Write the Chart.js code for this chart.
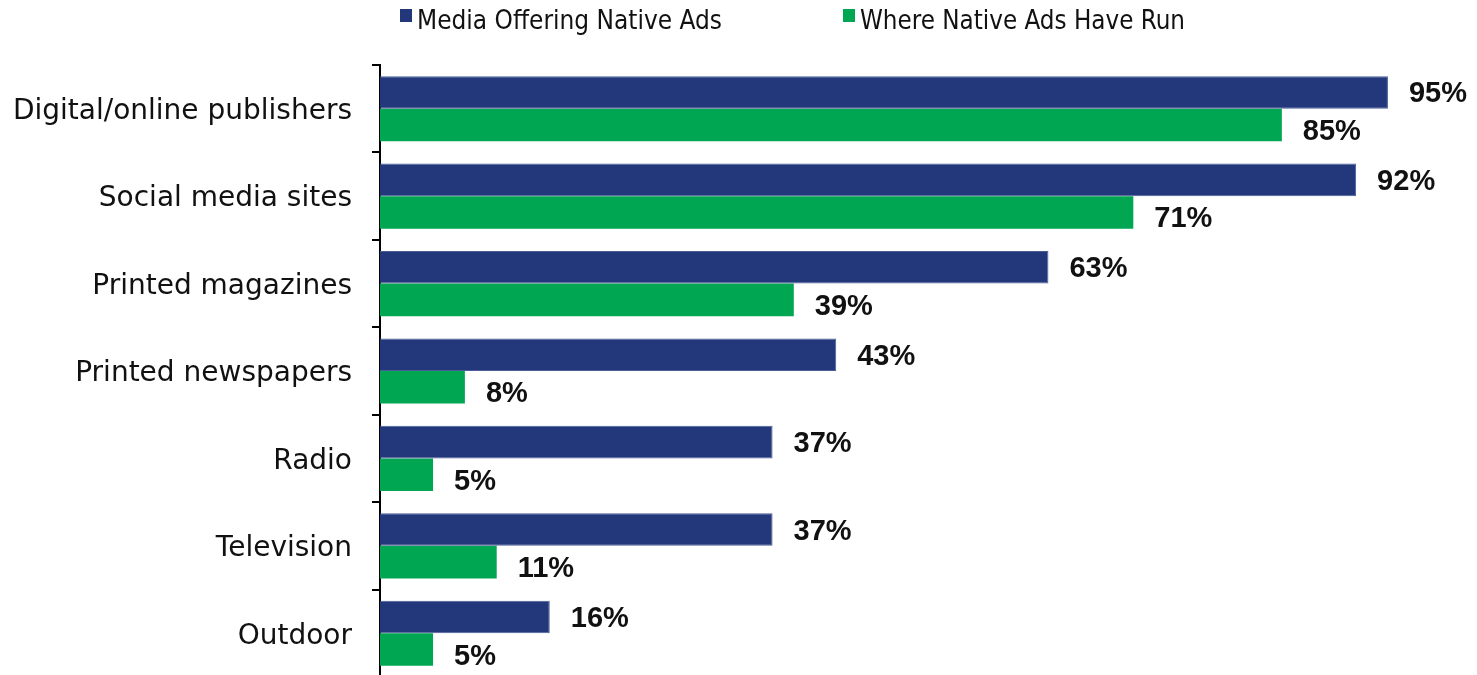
<!DOCTYPE html>
<html>
<head>
<meta charset="utf-8">
<script src="https://cdn.jsdelivr.net/npm/chart.js@4"></script>
<style>
  html, body { margin: 0; padding: 0; background: #fff; overflow: hidden; }
  canvas { display: block; }
</style>
</head>
<body>
<canvas id="nativeChart" width="1477" height="677"></canvas>
<script>
// categories and series
let categories = ['Digital/online publishers', 'Social media sites', 'Printed magazines',
  'Printed newspapers', 'Radio', 'Television', 'Outdoor'];
let offering = [95, 92, 63, 43, 37, 37, 16];
let haveRun = [85, 71, 39, 8, 5, 11, 5];
let seriesNames = ['Media Offering Native Ads', 'Where Native Ads Have Run'];
let colors = ['#22387A', '#00A651'];

// legend drawn by hand (small square + condensed text)
let topLegend = {
  id: 'topLegend',
  afterDraw(chart) {
    let ctx = chart.ctx;
    let items = [
      { x: 400, w: 305 },
      { x: 843, w: 325 }
    ];
    ctx.save();
    ctx.font = '27px "Liberation Sans Narrow", "DejaVu Sans Condensed", "Liberation Sans", sans-serif';
    ctx.textBaseline = 'alphabetic';
    items.forEach((it, i) => {
      ctx.fillStyle = colors[i];
      ctx.fillRect(it.x, 9, 12, 13);
      let txt = seriesNames[i];
      let m = ctx.measureText(txt).width;
      ctx.save();
      ctx.translate(it.x + 17, 29);
      ctx.scale(it.w / m, 1);
      ctx.fillStyle = '#111';
      ctx.fillText(txt, 0, 0);
      ctx.restore();
    });
    ctx.restore();
  }
};

// value labels at bar ends
let barLabels = {
  id: 'barLabels',
  afterDatasetsDraw(chart) {
    let ctx = chart.ctx;
    ctx.save();
    ctx.font = 'bold 29px "Liberation Sans", Arial, sans-serif';
    ctx.fillStyle = '#111';
    ctx.textAlign = 'left';
    ctx.textBaseline = 'middle';
    chart.data.datasets.forEach((ds, di) => {
      let meta = chart.getDatasetMeta(di);
      meta.data.forEach((bar, i) => {
        let dy = di === 0 ? 2 : 7;
        ctx.fillText(ds.data[i] + '%', bar.x + 21, bar.y + dy);
      });
    });
    ctx.restore();
  }
};

let ctx = document.getElementById('nativeChart').getContext('2d');

let chart = new Chart(ctx, {
  type: 'bar',
  data: {
    labels: categories,
    datasets: [{
      label: seriesNames[0],
      data: offering,
      backgroundColor: colors[0],
      borderColor: '#4B5E98',
      borderWidth: 1,
      categoryPercentage: 0.745,
      barPercentage: 1
    }, {
      label: seriesNames[1],
      data: haveRun,
      backgroundColor: colors[1],
      borderWidth: 0,
      categoryPercentage: 0.745,
      barPercentage: 1
    }]
  },
  options: {
    indexAxis: 'y',
    responsive: false,
    animation: false,
    layout: { padding: { top: 65, right: 36, bottom: 0, left: 0 } },
    plugins: {
      legend: { display: false },
      tooltip: { enabled: false }
    },
    scales: {
      x: {
        display: false,
        min: 0,
        max: 100
      },
      y: {
        afterFit(scale) {
          scale.width = 380;
          // chart runs off the bottom edge, no room kept for the last label
          scale.paddingTop = 0;
          scale.paddingBottom = 0;
        },
        border: { display: true, color: '#000', width: 2 },
        grid: {
          drawOnChartArea: false,
          drawTicks: true,
          tickLength: 8,
          color: '#000',
          lineWidth: 2
        },
        ticks: {
          color: '#111',
          padding: 20,
          labelOffset: 3,
          font: { family: '"DejaVu Sans", sans-serif', size: 28 }
        }
      }
    }
  },
  plugins: [topLegend, barLabels]
});
</script>
</body>
</html>
